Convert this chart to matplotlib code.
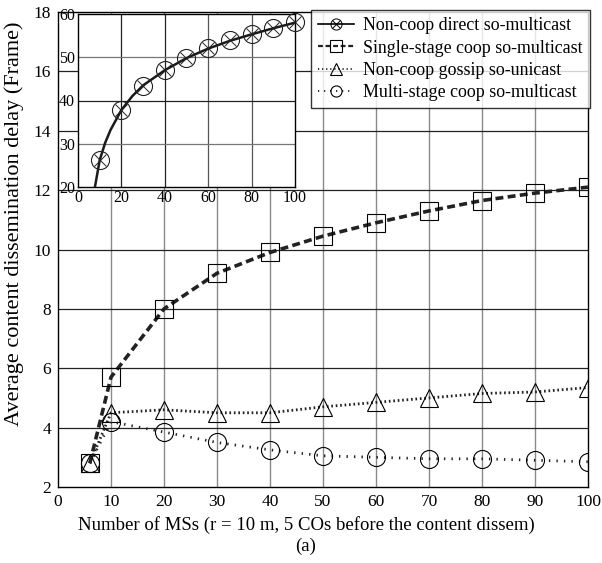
import matplotlib
matplotlib.use("Agg")
import matplotlib.pyplot as plt
from matplotlib.lines import Line2D

plt.rcParams["font.family"] = ["Liberation Serif", "DejaVu Serif"]

# main panel data
ms = [6, 10, 20, 30, 40, 50, 60, 70, 80, 90, 100]
single_stage = [2.8, 5.7, 8.0, 9.2, 9.9, 10.45, 10.9, 11.3, 11.65, 11.9, 12.1]
gossip_unicast = [2.8, 4.5, 4.6, 4.5, 4.5, 4.7, 4.85, 5.0, 5.15, 5.2, 5.35]
multi_stage = [2.8, 4.2, 3.85, 3.5, 3.25, 3.05, 3.0, 2.95, 2.95, 2.9, 2.85]

# inset data (non-coop direct so-multicast)
inset_x = [10, 20, 30, 40, 50, 60, 70, 80, 90, 100]
inset_y = [26.2, 37.8, 43.3, 47.0, 49.8, 52.2, 53.9, 55.4, 56.8, 58.2]
inset_curve_x = [7.8, 10, 12.5, 15, 20, 25, 30, 40, 50, 60, 70, 80, 90, 100]
inset_curve_y = [20, 26.2, 30.2, 33.2, 37.8, 41.0, 43.5, 47.0, 49.8, 52.0, 53.8, 55.3, 56.7, 58.0]

W, H = 602, 563
fig = plt.figure(figsize=(W / 100, H / 100), dpi=100)

ax = fig.add_axes([58 / W, 1 - 487 / H, 530 / W, 475 / H])
ax.set_xlim(0, 100)
ax.set_ylim(2, 18)
ax.set_xticks(range(0, 101, 10))
ax.set_yticks(range(2, 19, 2))
ax.tick_params(length=0, labelsize=12.5, pad=5)
for v in range(10, 100, 10):
    ax.axvline(v, color="#8a8a8a", lw=1.0, zorder=0)
for v in range(4, 18, 2):
    ax.axhline(v, color="#222222", lw=0.9, zorder=0)
for s in ax.spines.values():
    s.set_color("black")
    s.set_linewidth(1.0)

mk = dict(markersize=13, markerfacecolor="none", markeredgecolor="black",
          markeredgewidth=0.8)
ax.plot(ms, single_stage, color="#222222", lw=2.6, ls=(0, (2.2, 1.2)),
        marker="s", **mk, zorder=3)
ax.plot(ms, gossip_unicast, color="#222222", lw=2.0, ls=(0, (0.6, 1.0)),
        marker="^", **mk, zorder=3)
ax.plot(ms, multi_stage, color="#222222", lw=2.0, ls=(0, (0.5, 2.2)),
        marker="o", **mk, zorder=3)

ax.set_xlabel("Number of MSs (r = 10 m, 5 COs before the content dissem)\n(a)",
              fontsize=13.5, linespacing=1.25)
ax.xaxis.set_label_coords(0.468, -0.062, transform=ax.transAxes)
ax.xaxis.label.set_va("top")
ax.set_ylabel("Average content dissemination delay (Frame)", fontsize=16)
ax.yaxis.set_label_coords(-0.064, 0.554, transform=ax.transAxes)

# legend
h_direct = (Line2D([], [], color="black", lw=1.2, marker="o", markersize=8,
                   markerfacecolor="none", markeredgecolor="black",
                   markeredgewidth=0.7),
            Line2D([], [], ls="none", marker="x", markersize=6,
                   markeredgecolor="black", markeredgewidth=0.7))
lmk = dict(markersize=8, markerfacecolor="none", markeredgecolor="black",
           markeredgewidth=0.8)
h_single = Line2D([], [], color="#222222", lw=1.6, ls=(0, (2.2, 1.2)), marker="s", **lmk)
h_gossip = Line2D([], [], color="#222222", lw=1.4, ls=(0, (0.6, 1.5)), marker="^", **lmk)
h_multi = Line2D([], [], color="#222222", lw=1.4, ls=(0, (0.6, 2.5)), marker="o", **lmk)
leg = fig.legend([h_direct, h_single, h_gossip, h_multi],
                 ["Non-coop direct so-multicast", "Single-stage coop so-multicast",
                  "Non-coop gossip so-unicast", "Multi-stage coop so-multicast"],
                 loc="upper right", bbox_to_anchor=(590 / W, 1 - 10 / H),
                 fontsize=12.9, frameon=True, fancybox=False, handlelength=2.0,
                 handletextpad=0.5, borderpad=0.4, labelspacing=0.3,
                 borderaxespad=0)
leg.get_frame().set_edgecolor("black")
leg.get_frame().set_linewidth(1.0)
leg.set_zorder(10)

# inset
ins = fig.add_axes([78 / W, 1 - 187 / H, 217 / W, 173 / H])
ins.set_xlim(0, 100)
ins.set_ylim(20, 60)
ins.set_xticks(range(0, 101, 20))
ins.set_yticks(range(20, 61, 10))
ins.tick_params(length=0, labelsize=11.5, pad=2)
ins.patch.set_facecolor("white")
for v, c in zip([20, 40, 60, 80], ["#222222", "#222222", "#555555", "#555555"]):
    ins.axvline(v, color=c, lw=0.9, zorder=0)
for v, c in zip([30, 40, 50], ["#777777", "#222222", "#777777"]):
    ins.axhline(v, color=c, lw=0.9, zorder=0)
for s in ins.spines.values():
    s.set_color("black")
    s.set_linewidth(1.0)
ins.plot(inset_curve_x, inset_curve_y, color="#1a1a1a", lw=1.8, zorder=3,
         clip_on=True)
ins.plot(inset_x, inset_y, ls="none", marker="o", markersize=13,
         markerfacecolor="none", markeredgecolor="#222222", markeredgewidth=0.8,
         zorder=4, clip_on=False)
ins.plot(inset_x, inset_y, ls="none", marker="x", markersize=9,
         markeredgecolor="#222222", markeredgewidth=0.7, zorder=4, clip_on=False)

fig.savefig("out.png", dpi=100)
